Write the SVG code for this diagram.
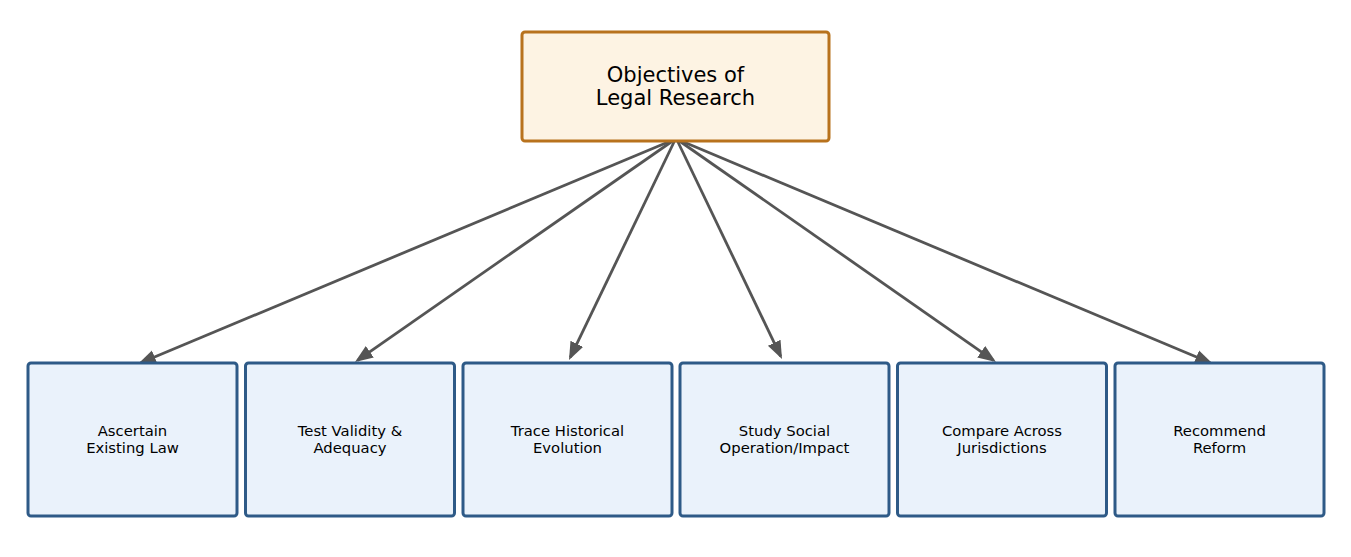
<svg xmlns="http://www.w3.org/2000/svg" width="1351" height="557" viewBox="0 0 1351 557">
<style>
.root rect{fill:#fdf3e3;stroke:#b8721d;stroke-width:3}
.leaf rect{fill:#eaf2fb;stroke:#2e5a87;stroke-width:3}
.t1{font-family:"DejaVu Sans",sans-serif;font-size:21px;fill:#000;text-anchor:middle}
.t2{font-family:"DejaVu Sans",sans-serif;font-size:14.8px;fill:#000;text-anchor:middle}
.edges line{stroke:#555555;stroke-width:2.8;fill:none;marker-end:url(#ah)}
</style>
<defs>
<marker id="ah" markerUnits="userSpaceOnUse" markerWidth="20" markerHeight="16" refX="15" refY="7.5" orient="auto">
<path d="M0,0.5 L18,7.5 L0,14.5 z" fill="#555555"/>
</marker>
</defs>
<rect width="1351" height="557" fill="#ffffff"/>
<g class="edges">
<line x1="673" y1="140" x2="140.8" y2="362.8"/>
<line x1="674" y1="140" x2="357.5" y2="360.3"/>
<line x1="675" y1="140" x2="570.3" y2="357.3"/>
<line x1="677" y1="140" x2="780.7" y2="356.3"/>
<line x1="678" y1="140" x2="993.5" y2="360.3"/>
<line x1="679" y1="140" x2="1210.2" y2="362.8"/>
</g>
<g id="root" class="root">
<rect x="522" y="32" width="307" height="109" rx="3"/>
<text class="t1" x="675.5" y="82">Objectives of</text>
<text class="t1" x="675.5" y="105">Legal Research</text>
</g>
<g id="n1" class="leaf">
<rect x="28" y="363" width="209" height="153" rx="3"/>
<text class="t2" x="132.5" y="436">Ascertain</text>
<text class="t2" x="132.5" y="453">Existing Law</text>
</g>
<g id="n2" class="leaf">
<rect x="245.5" y="363" width="209" height="153" rx="3"/>
<text class="t2" x="350" y="436">Test Validity &amp;</text>
<text class="t2" x="350" y="453">Adequacy</text>
</g>
<g id="n3" class="leaf">
<rect x="463" y="363" width="209" height="153" rx="3"/>
<text class="t2" x="567.5" y="436">Trace Historical</text>
<text class="t2" x="567.5" y="453">Evolution</text>
</g>
<g id="n4" class="leaf">
<rect x="680" y="363" width="209" height="153" rx="3"/>
<text class="t2" x="784.5" y="436">Study Social</text>
<text class="t2" x="784.5" y="453">Operation/Impact</text>
</g>
<g id="n5" class="leaf">
<rect x="897.5" y="363" width="209" height="153" rx="3"/>
<text class="t2" x="1002" y="436">Compare Across</text>
<text class="t2" x="1002" y="453">Jurisdictions</text>
</g>
<g id="n6" class="leaf">
<rect x="1115" y="363" width="209" height="153" rx="3"/>
<text class="t2" x="1219.5" y="436">Recommend</text>
<text class="t2" x="1219.5" y="453">Reform</text>
</g>
</svg>
